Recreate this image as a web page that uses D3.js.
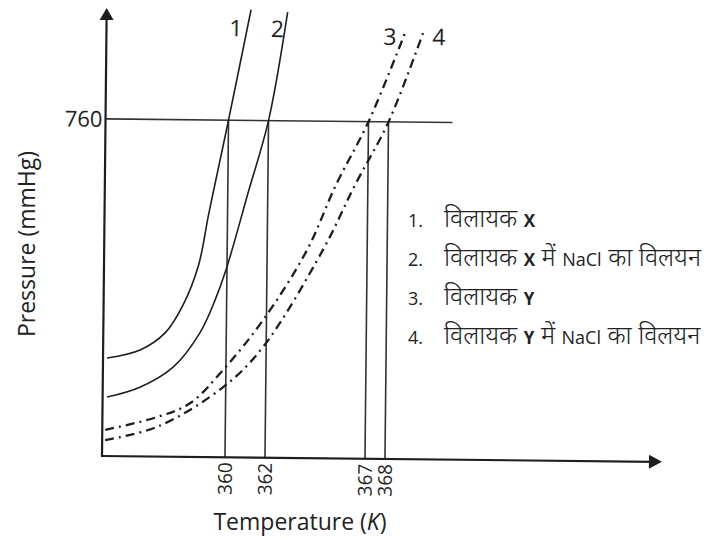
<!DOCTYPE html>
<html>
<head>
<meta charset="utf-8">
<script src="https://cdn.jsdelivr.net/npm/d3@7"></script>
<style>
  body { margin: 0; background: #fff; }
  text { font-family: "Open Sans", "Noto Sans", sans-serif; fill: #222; }
</style>
</head>
<body>
<script>
const width = 724;
const height = 542;

// temperature (K), pressure (mmHg)
const curve1 = [[354.05, 221], [355.7, 240], [356.94, 279], [357.82, 342], [358.58, 433], [359.05, 546], [359.55, 659], [360, 760], [361.07, 1010]];
const curve2 = [[354.07, 133], [355.71, 156], [357.36, 202], [358.68, 280], [359.42, 354], [359.95, 422], [361.03, 599], [362, 760], [362.9, 1005]];
const curve3 = [[354.0, 59], [356.58, 89], [358.22, 121], [359.86, 197], [361.83, 310], [363.99, 469], [365.41, 617], [367, 760], [368.78, 961]];
const curve4 = [[354.0, 36], [356.59, 67], [359.87, 158], [361.85, 250], [364.79, 470], [366.36, 617], [368, 760], [369.68, 961]];
const curveLabels = ['1', '2', '3', '4'];
const boilingTemps = [360, 362, 367, 368];
const boilingP = 760;
const legendNums = ['1.', '2.', '3.', '4.'];
const legendSolvents = ['X', 'X', 'Y', 'Y'];
const legendSuffix = ['', ' में NaCl का विलयन', '', ' में NaCl का विलयन'];
const solventWord = 'विलायक ';

const svg = d3.select('body').append('svg')
  .attr('width', width)
  .attr('height', height);

const tMin = 353.85, tMax = 381.85, pMax = 1010;
const x = d3.scaleLinear().domain([tMin, tMax]).range([102, 662]);
const y = d3.scaleLinear().domain([0, pMax]).range([456, 8]);

// the drawing is tilted a little clockwise
const plot = svg.append('g')
  .attr('transform', `rotate(0.6, ${x(tMin)}, ${y(0)})`);

const ink = '#1e1e1e';

// 760 line and drop lines
plot.append('line')
  .attr('x1', x(tMin)).attr('x2', x(371.2))
  .attr('y1', y(boilingP)).attr('y2', y(boilingP))
  .attr('stroke', '#333').attr('stroke-width', 1.6);

plot.selectAll('.drop')
  .data(boilingTemps)
  .enter().append('line')
    .attr('class', 'drop')
    .attr('x1', d => x(d)).attr('x2', d => x(d))
    .attr('y1', y(boilingP)).attr('y2', y(0))
    .attr('stroke', '#333').attr('stroke-width', 1.6);

// axes
plot.append('line')
  .attr('x1', x(tMin)).attr('x2', x(tMin))
  .attr('y1', y(0)).attr('y2', y(pMax) + 8)
  .attr('stroke', ink).attr('stroke-width', 2.2);
plot.append('path')
  .attr('d', `M${x(tMin)},${y(pMax)} l-7,12 l14,0 z`)
  .attr('fill', ink);

plot.append('line')
  .attr('x1', x(tMin) - 1).attr('x2', x(tMax) - 8)
  .attr('y1', y(0)).attr('y2', y(0))
  .attr('stroke', ink).attr('stroke-width', 2.2);
plot.append('path')
  .attr('d', `M${x(tMax)},${y(0)} l-13,-7 l0,14 z`)
  .attr('fill', ink);

// curves
const line = d3.line()
  .x(d => x(d[0]))
  .y(d => y(d[1]))
  .curve(d3.curveCatmullRom.alpha(0.5));

const curves = [curve1, curve2, curve3, curve4];
plot.selectAll('.curve')
  .data(curves)
  .enter().append('path')
    .attr('class', 'curve')
    .attr('d', line)
    .attr('fill', 'none')
    .attr('stroke', ink)
    .attr('stroke-width', (d, i) => i < 2 ? 1.6 : 2.3)
    .attr('stroke-dasharray', (d, i) => i < 2 ? null : '9,5,2,5');

// labels at the top of each curve
const labelOffsets = [[-15, 27], [-10, 25], [-15, 12], [16, 12]];
plot.selectAll('.clabel')
  .data(curves)
  .enter().append('text')
    .attr('class', 'clabel')
    .attr('x', (d, i) => x(d[d.length - 1][0]) + labelOffsets[i][0])
    .attr('y', (d, i) => y(d[d.length - 1][1]) + labelOffsets[i][1])
    .attr('text-anchor', 'middle')
    .style('font-size', '23px')
    .text((d, i) => curveLabels[i]);

// y tick
plot.append('text')
  .attr('x', x(tMin) - 3)
  .attr('y', y(boilingP) + 8)
  .attr('text-anchor', 'end')
  .style('font-size', '22px')
  .text(boilingP);

// x ticks (rotated)
plot.selectAll('.tick')
  .data(boilingTemps)
  .enter().append('text')
    .attr('class', 'tick')
    .attr('transform', d => `translate(${x(d) + 7}, ${y(0) + 5}) rotate(-90)`)
    .attr('text-anchor', 'end')
    .style('font-size', '19px')
    .text(d => d);

// axis titles
svg.append('text')
  .attr('x', 300).attr('y', 530)
  .attr('text-anchor', 'middle')
  .style('font-size', '23px')
  .call(t => {
    t.append('tspan').text('Temperature (');
    t.append('tspan').style('font-style', 'italic').text('K');
    t.append('tspan').text(')');
  });

svg.append('text')
  .attr('transform', 'translate(35, 244) rotate(-90)')
  .attr('text-anchor', 'middle')
  .style('font-size', '23px')
  .text('Pressure (mmHg)');

// legend: Devanagari set larger than the Latin bits
const legend = svg.append('g');
legendNums.forEach((num, i) => {
  const by = 227 + i * 39;
  legend.append('text')
    .attr('x', 408).attr('y', by)
    .style('font-size', '18px')
    .text(num);
  const t = legend.append('text')
    .attr('x', 444).attr('y', by);
  t.append('tspan').style('font-size', '25px').style('font-weight', 300).text(solventWord);
  t.append('tspan').style('font-weight', 'bold').style('font-size', '17px').text(legendSolvents[i]);
  legendSuffix[i].split(/(NaCl)/).filter(s => s).forEach(s => {
    t.append('tspan')
      .style('font-size', s === 'NaCl' ? '18px' : '25px')
      .style('font-weight', s === 'NaCl' ? null : 300)
      .text(s);
  });
});
</script>
</body>
</html>
